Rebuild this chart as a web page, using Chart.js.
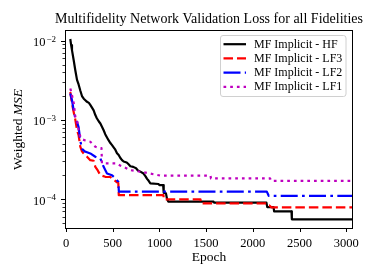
<!DOCTYPE html>
<html><head><meta charset="utf-8">
<script src="https://cdn.jsdelivr.net/npm/chart.js@4/dist/chart.umd.min.js"></script>
<style>html,body{margin:0;padding:0;background:#fff}</style>
</head><body>
<canvas id="c" width="374" height="280"></canvas>
<script>
// ---- text ----
const titleText = 'Multifidelity Network Validation Loss for all Fidelities';
const xLabel = 'Epoch';
const yLabelPlain = 'Weighted ';
const yLabelItalic = 'MSE';
const seriesLabels = ['MF Implicit - HF', 'MF Implicit - LF3', 'MF Implicit - LF2', 'MF Implicit - LF1'];

// ---- ticks ----
const xTicks = [0, 500, 1000, 1500, 2000, 2500, 3000];
const yMajorTicks = [1e-4, 1e-3, 1e-2];
const yTickExponents = ['\u22124', '\u22123', '\u22122'];

// ---- data (epoch, weighted MSE) ----
const hfEpochs = [46, 55, 64, 82, 100, 118, 135, 153, 171, 190, 207, 225, 245, 260, 280, 296, 314, 330, 350, 368, 385, 403, 420, 439, 457, 475, 493, 510, 528, 546, 564, 582, 600, 617, 650, 670, 689, 720, 750, 770, 796, 830, 850, 868, 885, 903, 990, 1000, 1040, 1046, 1070, 1082, 1095, 1580, 1585, 2146, 2155, 2222, 2228, 2414, 2418, 3062];
const hfLoss = [1.05e-2, 8.8e-3, 7.6e-3, 5.7e-3, 4.2e-3, 3.2e-3, 2.8e-3, 2.35e-3, 2.0e-3, 1.85e-3, 1.77e-3, 1.69e-3, 1.64e-3, 1.55e-3, 1.42e-3, 1.32e-3, 1.15e-3, 1.05e-3, 9.6e-4, 9.0e-4, 8.2e-4, 7.4e-4, 6.6e-4, 6.0e-4, 5.5e-4, 5.1e-4, 4.8e-4, 4.5e-4, 4.2e-4, 3.8e-4, 3.6e-4, 3.3e-4, 3.1e-4, 2.98e-4, 2.9e-4, 2.75e-4, 2.6e-4, 2.55e-4, 2.45e-4, 2.3e-4, 2.22e-4, 2.1e-4, 1.95e-4, 1.8e-4, 1.7e-4, 1.58e-4, 1.55e-4, 1.5e-4, 1.5e-4, 1.2e-4, 1.18e-4, 1.0e-4, 9.3e-5, 9.3e-5, 9.0e-5, 9.0e-5, 7.9e-5, 7.9e-5, 7.0e-5, 7.0e-5, 5.55e-5, 5.55e-5];

const lf3Epochs = [46, 55, 64, 82, 100, 118, 135, 153, 171, 189, 225, 260, 296, 314, 340, 368, 421, 475, 510, 546, 560, 565, 1043, 1048, 1440, 1445, 2150, 2165, 2175, 2200, 3062];
const lf3Loss = [2.25e-3, 1.9e-3, 1.61e-3, 1.26e-3, 1.0e-3, 7.4e-4, 6.4e-4, 4.6e-4, 4.0e-4, 3.77e-4, 3.42e-4, 3.1e-4, 3.05e-4, 2.55e-4, 2.3e-4, 2.0e-4, 1.91e-4, 1.9e-4, 1.75e-4, 1.63e-4, 1.6e-4, 1.12e-4, 1.12e-4, 9.9e-5, 9.9e-5, 8.8e-5, 8.8e-5, 8.3e-5, 8.3e-5, 7.85e-5, 7.85e-5];

const lf2Epochs = [46, 55, 64, 82, 100, 118, 135, 153, 171, 200, 225, 260, 314, 368, 403, 439, 493, 528, 560, 566, 2150, 2170, 3062];
const lf2Loss = [2.15e-3, 1.95e-3, 1.77e-3, 1.33e-3, 1.04e-3, 9.4e-4, 8.1e-4, 5.5e-4, 4.3e-4, 4.0e-4, 3.9e-4, 3.77e-4, 3.42e-4, 3.25e-4, 2.55e-4, 2.1e-4, 2.0e-4, 1.82e-4, 1.65e-4, 1.24e-4, 1.24e-4, 1.1e-4, 1.1e-4];

const lf1Epochs = [46, 55, 64, 82, 100, 118, 135, 153, 171, 207, 260, 314, 368, 380, 385, 546, 580, 617, 689, 800, 900, 1010, 1547, 1552, 2185, 2195, 3062];
const lf1Loss = [2.49e-3, 2.3e-3, 2.05e-3, 1.65e-3, 1.09e-3, 1.0e-3, 7.4e-4, 6.2e-4, 5.7e-4, 5.5e-4, 5.3e-4, 4.57e-4, 4.4e-4, 4.4e-4, 2.82e-4, 2.82e-4, 2.65e-4, 2.55e-4, 2.32e-4, 2.21e-4, 2.1e-4, 1.98e-4, 1.98e-4, 1.82e-4, 1.82e-4, 1.70e-4, 1.70e-4];

const FONT = "'Liberation Serif','DejaVu Serif',serif";
const pts = (xs, ys) => xs.map((x, i) => ({x: x, y: ys[i]}));

const decor = {
  id: 'decor',
  afterDatasetsDraw(chart) {
    const {ctx, chartArea: a, scales: {x, y}} = chart;
    ctx.save();
    // title, centred over the plot area
    ctx.fillStyle = '#000';
    ctx.font = '14px ' + FONT;
    ctx.textAlign = 'center';
    ctx.textBaseline = 'alphabetic';
    ctx.fillText(titleText, (a.left + a.right) / 2, 23);
    // frame
    ctx.strokeStyle = '#000';
    ctx.lineWidth = 1;
    ctx.strokeRect(a.left - 0.5, a.top - 0.5, a.right - a.left + 1, a.bottom - a.top + 1);
    // x ticks
    ctx.beginPath();
    xTicks.forEach(v => {
      const px = Math.round(x.getPixelForValue(v)) + 0.5;
      ctx.moveTo(px, a.bottom); ctx.lineTo(px, a.bottom + 4);
    });
    // y major ticks
    yMajorTicks.forEach(v => {
      const py = Math.round(y.getPixelForValue(v)) + 0.5;
      ctx.moveTo(a.left - 1, py); ctx.lineTo(a.left - 5, py);
    });
    ctx.stroke();
    // y minor ticks
    ctx.beginPath();
    ctx.lineWidth = 0.8;
    for (let k = -6; k <= -1; k++) {
      for (let m = 2; m <= 9; m++) {
        const v = m * Math.pow(10, k);
        if (v < y.min || v > y.max) continue;
        const py = Math.round(y.getPixelForValue(v)) + 0.5;
        ctx.moveTo(a.left - 1, py); ctx.lineTo(a.left - 3.5, py);
      }
    }
    ctx.stroke();
    // y tick labels 10^k
    ctx.textAlign = 'left';
    yMajorTicks.forEach((v, i) => {
      const py = y.getPixelForValue(v);
      ctx.font = '9px ' + FONT;
      const ew = ctx.measureText(yTickExponents[i]).width;
      ctx.font = '12.5px ' + FONT;
      const bw = ctx.measureText('10').width;
      const xs = 56 - ew;
      ctx.fillText('10', xs - bw - 1, py + 5.5);
      ctx.font = '9px ' + FONT;
      ctx.fillText(yTickExponents[i], xs, py + 1);
    });
    // y axis title
    ctx.save();
    ctx.translate(22, (a.top + a.bottom) / 2);
    ctx.rotate(-Math.PI / 2);
    ctx.font = '13.5px ' + FONT;
    const w1 = ctx.measureText(yLabelPlain).width;
    ctx.font = 'italic 13.5px ' + FONT;
    const w2 = ctx.measureText(yLabelItalic).width;
    const start = -(w1 + w2) / 2;
    ctx.font = '13.5px ' + FONT;
    ctx.fillText(yLabelPlain, start, 0);
    ctx.font = 'italic 13.5px ' + FONT;
    ctx.fillText(yLabelItalic, start + w1, 0);
    ctx.restore();
    ctx.restore();
  },
  afterDraw(chart) {
    const {ctx, chartArea: a} = chart;
    ctx.save();
    const bx = 220.5, by = a.top + 4.5, bw = a.right - 6 - bx, bh = 61, r = 2.5;
    ctx.beginPath();
    ctx.moveTo(bx + r, by);
    ctx.arcTo(bx + bw, by, bx + bw, by + bh, r);
    ctx.arcTo(bx + bw, by + bh, bx, by + bh, r);
    ctx.arcTo(bx, by + bh, bx, by, r);
    ctx.arcTo(bx, by, bx + bw, by, r);
    ctx.closePath();
    ctx.fillStyle = 'rgba(255,255,255,0.8)';
    ctx.fill();
    ctx.strokeStyle = '#d0d0d0';
    ctx.lineWidth = 1;
    ctx.stroke();
    chart.data.datasets.forEach((ds, i) => {
      const yy = by + 8.7 + i * 14.2;
      ctx.beginPath();
      ctx.setLineDash(ds.borderDash || []);
      ctx.lineCap = 'butt';
      ctx.strokeStyle = ds.borderColor;
      ctx.lineWidth = ds.borderWidth;
      ctx.moveTo(223.5, yy); ctx.lineTo(246, yy);
      ctx.stroke();
      ctx.setLineDash([]);
      ctx.fillStyle = '#000';
      ctx.font = '12px ' + FONT;
      ctx.textBaseline = 'middle';
      ctx.textAlign = 'left';
      ctx.fillText(ds.label, 254, yy + 0.5);
    });
    ctx.restore();
  }
};

const common = {pointRadius: 0, borderWidth: 2.2, fill: false, tension: 0, borderCapStyle: 'butt', borderJoinStyle: 'round'};

new Chart(document.getElementById('c'), {
  type: 'line',
  data: {
    datasets: [
      Object.assign({label: seriesLabels[0], data: pts(hfEpochs, hfLoss), borderColor: '#000000', borderDash: [], order: 4}, common),
      Object.assign({label: seriesLabels[1], data: pts(lf3Epochs, lf3Loss), borderColor: '#ff0000', borderDash: [9.5, 4], order: 3}, common),
      Object.assign({label: seriesLabels[2], data: pts(lf2Epochs, lf2Loss), borderColor: '#0000ff', borderDash: [17, 4.3, 2.7, 4.3], order: 2}, common),
      Object.assign({label: seriesLabels[3], data: pts(lf1Epochs, lf1Loss), borderColor: '#bf00bf', borderDash: [2.7, 4], order: 1}, common)
    ]
  },
  options: {
    animation: false,
    responsive: false,
    devicePixelRatio: 1,
    layout: {padding: {left: 0, right: 22, top: 31, bottom: 0}},
    plugins: {
      legend: {display: false},
      tooltip: {enabled: false},
      title: {display: false}
    },
    scales: {
      x: {
        type: 'linear', min: 0, max: 3062,
        grid: {display: false, drawTicks: false}, border: {display: false},
        ticks: {autoSkip: false, maxRotation: 0, padding: 8, color: '#000', font: {family: FONT, size: 12.5}, callback: v => String(v)},
        afterBuildTicks: s => { s.ticks = xTicks.map(v => ({value: v})); },
        title: {display: true, text: xLabel, color: '#000', font: {family: FONT, size: 13.5}, padding: {top: 0, bottom: 14}},
        afterFit: s => { s.height = 52; }
      },
      y: {
        type: 'logarithmic', min: 4.31e-5, max: 1.326e-2,
        grid: {display: false, drawTicks: false}, border: {display: false},
        ticks: {display: false},
        afterFit: s => { s.width = 66; }
      }
    }
  },
  plugins: [decor]
});
</script>
</body></html>
